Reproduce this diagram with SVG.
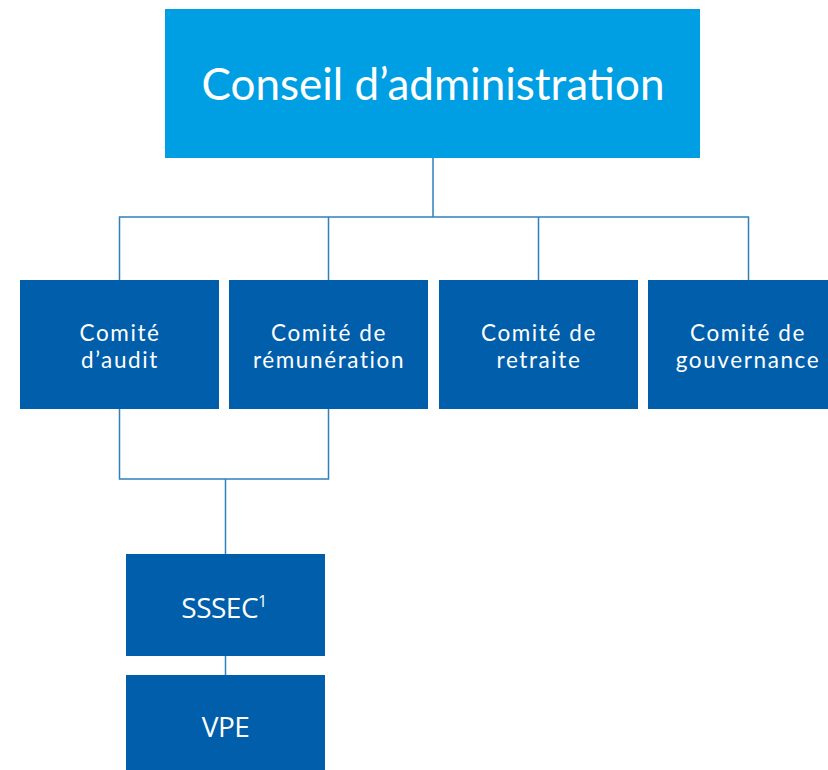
<svg xmlns="http://www.w3.org/2000/svg" width="828" height="770" viewBox="0 0 828 770">
<style>
.top{fill:#009FE3}
.box{fill:#005EAA}
.lbl{font-family:Lato,"Open Sans",sans-serif;fill:#fff;text-anchor:middle}
.c{font-size:22.5px;letter-spacing:1.6px}
.s{font-family:"Open Sans","Noto Sans",sans-serif;fill:#fff;text-anchor:middle;font-size:28px;letter-spacing:-0.5px}
.ln{fill:none;stroke:#2F80BC;stroke-width:1.5}
</style>
<rect width="828" height="770" fill="#fff"/>
<g id="connectors">
<path class="ln" d="M433 158V217M119.5 280V217H748.5V280M328.5 217V280M538.5 217V280"/>
<path class="ln" d="M119.5 409V479H328.5V409M225.5 479V554M225.5 656V675"/>
</g>
<g id="conseil">
<rect class="top" x="165" y="9" width="535" height="149"/>
<text class="lbl" x="433" y="100" font-size="44">Conseil d’administration</text>
</g>
<g id="audit">
<rect class="box" x="20" y="280" width="199" height="129"/>
<text class="lbl c" x="120" y="340.5">Comité</text>
<text class="lbl c" x="120" y="368">d’audit</text>
</g>
<g id="remuneration">
<rect class="box" x="229" y="280" width="199" height="129"/>
<text class="lbl c" x="329" y="340.5">Comité de</text>
<text class="lbl c" x="329" y="368">rémunération</text>
</g>
<g id="retraite">
<rect class="box" x="439" y="280" width="199" height="129"/>
<text class="lbl c" x="539" y="340.5">Comité de</text>
<text class="lbl c" x="539" y="368">retraite</text>
</g>
<g id="gouvernance">
<rect class="box" x="648" y="280" width="199" height="129"/>
<text class="lbl c" x="748" y="340.5">Comité de</text>
<text class="lbl c" x="748" y="368">gouvernance</text>
</g>
<g id="sssec">
<rect class="box" x="126" y="554" width="199" height="102"/>
<text class="s" x="224" y="618">SSSEC<tspan font-size="16" dy="-11">1</tspan></text>
</g>
<g id="vpe">
<rect class="box" x="126" y="675" width="199" height="95"/>
<text class="s" x="225.5" y="737">VPE</text>
</g>
</svg>
